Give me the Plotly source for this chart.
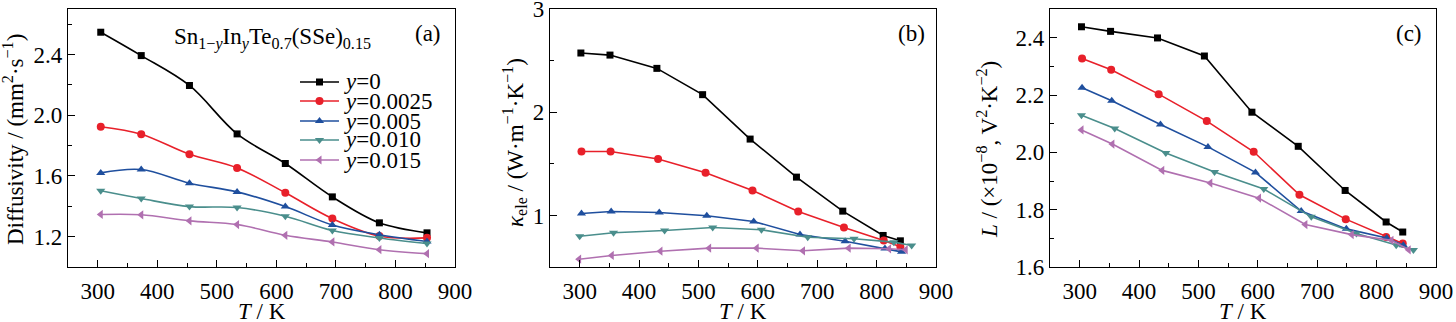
import plotly.graph_objects as go

# ---------------- data ----------------
labels = ["y=0", "y=0.0025", "y=0.005", "y=0.010", "y=0.015"]
legend_text = ["<i>y</i>=0", "<i>y</i>=0.0025", "<i>y</i>=0.005", "<i>y</i>=0.010", "<i>y</i>=0.015"]

# (a) thermal diffusivity
T_a = [305, 373, 454, 534, 615, 694, 773, 853]
D_y0 = [2.547, 2.393, 2.196, 1.877, 1.682, 1.462, 1.291, 1.225]
D_y1 = [1.924, 1.875, 1.743, 1.653, 1.489, 1.319, 1.204, 1.192]
D_y2 = [1.620, 1.642, 1.552, 1.495, 1.398, 1.277, 1.213, 1.168]
D_y3 = [1.502, 1.451, 1.398, 1.392, 1.334, 1.240, 1.191, 1.155]
D_y4 = [1.346, 1.344, 1.304, 1.280, 1.209, 1.165, 1.114, 1.088]

# (b) electronic thermal conductivity
Tb_y0 = [302, 351, 430, 507, 587, 665, 743, 811, 840]
Kb_y0 = [2.576, 2.556, 2.427, 2.172, 1.741, 1.372, 1.042, 0.806, 0.754]
Tb_y1 = [303, 352, 432, 512, 591, 668, 745, 812, 840]
Kb_y1 = [1.621, 1.621, 1.547, 1.415, 1.243, 1.039, 0.883, 0.757, 0.696]
Tb_y2 = [303, 353, 434, 514, 593, 671, 747, 814, 842]
Kb_y2 = [1.019, 1.039, 1.029, 0.997, 0.942, 0.816, 0.750, 0.680, 0.647]
Tb_y3 = [300, 357, 443, 524, 606, 684, 762, 829, 859]
Kb_y3 = [0.799, 0.832, 0.854, 0.883, 0.861, 0.789, 0.774, 0.741, 0.709]
Tb_y4 = [299, 354, 436, 518, 598, 676, 753, 821, 849]
Kb_y4 = [0.576, 0.612, 0.653, 0.683, 0.683, 0.657, 0.683, 0.677, 0.667]

# (c) Lorenz number
Tc_y0 = [303, 352, 431, 510, 590, 668, 747, 816, 844]
L_y0 = [2.438, 2.422, 2.399, 2.336, 2.140, 2.021, 1.867, 1.757, 1.722]
Tc_y1 = [304, 353, 433, 514, 593, 670, 748, 816, 844]
L_y1 = [2.327, 2.288, 2.203, 2.109, 2.002, 1.852, 1.767, 1.705, 1.682]
Tc_y2 = [304, 354, 436, 516, 596, 673, 749, 817, 845]
L_y2 = [2.225, 2.180, 2.097, 2.019, 1.930, 1.795, 1.733, 1.701, 1.676]
Tc_y3 = [303, 359, 445, 527, 610, 690, 766, 833, 862]
L_y3 = [2.129, 2.083, 1.998, 1.931, 1.872, 1.775, 1.717, 1.676, 1.659]
Tc_y4 = [303, 355, 439, 520, 602, 680, 758, 825, 854]
L_y4 = [2.078, 2.029, 1.937, 1.893, 1.840, 1.748, 1.713, 1.693, 1.660]

x_ticks = [300, 400, 500, 600, 700, 800, 900]
ya_ticks = [1.2, 1.6, 2.0, 2.4]
yb_ticks = [1, 2, 3]
yc_ticks = [1.6, 1.8, 2.0, 2.2, 2.4]

# ---------------- style ----------------
colors = ["#000000", "#e8202a", "#1f4f9e", "#4a8e8c", "#b070b0"]
symbols = ["square", "circle", "triangle-up", "triangle-down", "triangle-left"]
msizes = [7, 8, 8, 8, 8]
FONT = "Liberation Serif"
FS = 23

W, H = 1456, 322
def px_x(p):
    return p / W
def px_y(p):
    return 1 - p / H

top, bot = 9, 267
dom_y = [px_y(bot), px_y(top)]
dom_a = [px_x(68), px_x(455)]
dom_b = [px_x(550), px_x(936)]
dom_c = [px_x(1050), px_x(1436)]

fig = go.Figure()

panel_a = [(T_a, D_y0), (T_a, D_y1), (T_a, D_y2), (T_a, D_y3), (T_a, D_y4)]
panel_b = [(Tb_y0, Kb_y0), (Tb_y1, Kb_y1), (Tb_y2, Kb_y2), (Tb_y3, Kb_y3), (Tb_y4, Kb_y4)]
panel_c = [(Tc_y0, L_y0), (Tc_y1, L_y1), (Tc_y2, L_y2), (Tc_y3, L_y3), (Tc_y4, L_y4)]

for (data, xa, ya, shape) in [(panel_a, "x", "y", "spline"),
                              (panel_b, "x2", "y2", "linear"),
                              (panel_c, "x3", "y3", "linear")]:
    for i, (xs, ys) in enumerate(data):
        fig.add_trace(go.Scatter(
            x=xs, y=ys, mode="lines+markers", name=labels[i],
            line=dict(color=colors[i], width=1.6, shape=shape, smoothing=1.0),
            marker=dict(symbol=symbols[i], size=msizes[i], color=colors[i]),
            xaxis=xa, yaxis=ya, showlegend=False, cliponaxis=False))

# manual legend for panel (a) (compact row spacing as in the reference)
leg_rows = [82, 101, 121, 140, 160]
leg_x0, leg_x1 = 300, 339
for i in range(5):
    yv = px_y(leg_rows[i])
    fig.add_trace(go.Scatter(
        x=[px_x(leg_x0), px_x(leg_x1)], y=[yv, yv], mode="lines",
        line=dict(color=colors[i], width=1.6),
        xaxis="x4", yaxis="y4", showlegend=False, hoverinfo="skip"))
    fig.add_trace(go.Scatter(
        x=[px_x((leg_x0 + leg_x1) / 2)], y=[yv], mode="markers",
        marker=dict(symbol=symbols[i], size=msizes[i], color=colors[i]),
        xaxis="x4", yaxis="y4", showlegend=False, hoverinfo="skip"))
    fig.add_annotation(x=px_x(342), y=yv, xref="paper", yref="paper",
                       text=legend_text[i], showarrow=False, xanchor="left",
                       yanchor="middle", font=dict(family=FONT, size=FS, color="black"))

def xaxis(dom, anchor):
    return dict(domain=dom, anchor=anchor, range=[250, 900], tickvals=x_ticks,
                automargin=False,
                ticks="inside", ticklen=7, tickwidth=1.2, tickcolor="black",
                ticklabelstandoff=3, ticklabeloverflow="allow",
                minor=dict(dtick=50, tick0=250, ticks="inside", ticklen=4, tickwidth=1.2, tickcolor="black"),
                showline=True, linecolor="black", linewidth=1.3, mirror=True,
                showgrid=False, zeroline=False,
                tickfont=dict(family=FONT, size=FS, color="black"))

def yaxis(anchor, rng, tv, minor_dtick, fmt):
    return dict(domain=dom_y, anchor=anchor, range=rng, tickvals=tv,
                automargin=False,
                tickformat=fmt, ticklabeloverflow="allow",
                ticks="inside", ticklen=7, tickwidth=1.2, tickcolor="black",
                minor=dict(dtick=minor_dtick, tick0=0, ticks="inside", ticklen=4, tickwidth=1.2, tickcolor="black"),
                showline=True, linecolor="black", linewidth=1.3, mirror=True,
                showgrid=False, zeroline=False,
                tickfont=dict(family=FONT, size=FS, color="black"))

fig.update_layout(
    width=W, height=H, margin=dict(l=0, r=0, t=0, b=0, autoexpand=False),
    paper_bgcolor="white", plot_bgcolor="rgba(0,0,0,0)",
    showlegend=False,
    xaxis=xaxis(dom_a, "y"), yaxis=yaxis("x", [1.0, 2.7], ya_ticks, 0.2, ".1f"),
    xaxis2=xaxis(dom_b, "y2"), yaxis2=yaxis("x2", [0.5, 3.003], yb_ticks, 0.5, "d"),
    xaxis3=xaxis(dom_c, "y3"), yaxis3=yaxis("x3", [1.6, 2.5], yc_ticks, 0.1, ".1f"),
    xaxis4=dict(domain=[0, 1], range=[0, 1], visible=False, anchor="y4", automargin=False),
    yaxis4=dict(domain=[0, 1], range=[0, 1], visible=False, anchor="x4", automargin=False),
)

ann_font = dict(family=FONT, size=FS, color="black")
# x titles
for cx in [(68 + 455) / 2, (550 + 936) / 2, (1050 + 1436) / 2]:
    fig.add_annotation(x=px_x(cx), y=px_y(311), xref="paper", yref="paper",
                       text="<i>T</i> / K", showarrow=False, xanchor="center", yanchor="middle",
                       font=ann_font)
# y titles
ytitles = [("Diffusivity / (mm<sup>2</sup>·s<sup>−1</sup>)", 14, 140),
           ("<i>κ</i><sub>ele</sub> / (W·m<sup>−1</sup>·K<sup>−1</sup>)", 514, 143),
           ("<i>L</i> / (×10<sup>−8</sup>, V<sup>2</sup>·K<sup>−2</sup>)", 987, 150)]
for txt, cx, cy in ytitles:
    fig.add_annotation(x=px_x(cx), y=px_y(cy), xref="paper", yref="paper",
                       text=txt, showarrow=False, textangle=-90,
                       xanchor="center", yanchor="middle", font=ann_font)

# panel labels and formula
for txt, cx in [("(a)", 428), ("(b)", 911), ("(c)", 1409)]:
    fig.add_annotation(x=px_x(cx), y=px_y(33), xref="paper", yref="paper",
                       text=txt, showarrow=False, xanchor="center", yanchor="middle",
                       font=ann_font)
fig.add_annotation(x=px_x(272), y=px_y(38), xref="paper", yref="paper",
                   text="Sn<sub>1−<i>y</i></sub>In<sub><i>y</i></sub>Te<sub>0.7</sub>(SSe)<sub>0.15</sub>",
                   showarrow=False, xanchor="center", yanchor="middle", font=ann_font)

fig.write_html("out.html")
